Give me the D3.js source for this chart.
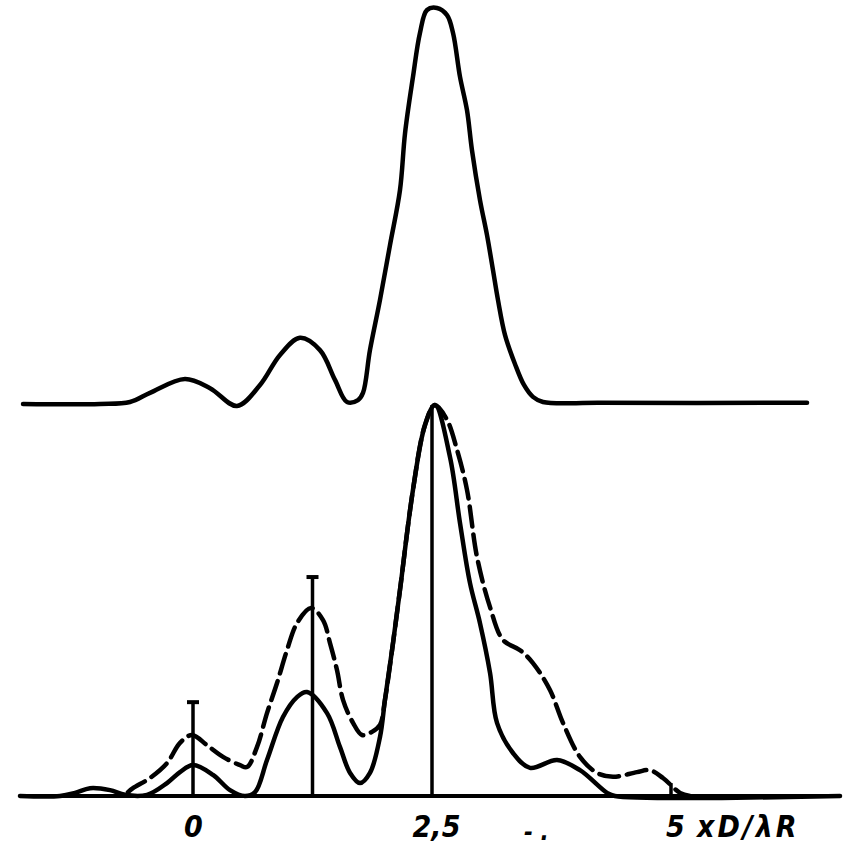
<!DOCTYPE html>
<html>
<head>
<meta charset="utf-8">
<script src="https://cdn.jsdelivr.net/npm/d3@7"></script>
<style>
  html, body { margin: 0; padding: 0; background: #fff; }
  svg { display: block; }
  .lbl { font-family: "Liberation Sans Narrow", "DejaVu Sans Condensed", "DejaVu Sans", sans-serif; font-style: italic; font-weight: bold; }
</style>
</head>
<body>
<script>
// ---- data (x in units of xD/λR, y in relative intensity) ----
const topX = [-1.778, -0.973, -0.659, -0.450, -0.084, 0.178, 0.460, 0.701, 0.910, 1.119, 1.328, 1.485, 1.611, 1.726, 1.778, 1.851, 1.956, 2.061, 2.165, 2.218, 2.301, 2.374, 2.448, 2.552, 2.657, 2.720, 2.793, 2.866, 2.918, 3.002, 3.075, 3.138, 3.190, 3.264, 3.368, 3.462, 3.556, 3.661, 4.257, 6.423];
const topY = [0.000, 0.000, 0.005, 0.028, 0.063, 0.040, -0.005, 0.048, 0.124, 0.167, 0.136, 0.061, 0.005, 0.010, 0.028, 0.136, 0.263, 0.402, 0.540, 0.684, 0.826, 0.937, 0.995, 1.000, 0.982, 0.937, 0.826, 0.742, 0.641, 0.515, 0.427, 0.338, 0.263, 0.174, 0.101, 0.048, 0.018, 0.005, 0.003, 0.003];

const solidX = [-1.810, -1.391, -1.234, -1.077, -0.868, -0.711, -0.481, -0.272, -0.136, 0.000, 0.209, 0.387, 0.544, 0.649, 0.774, 0.941, 1.088, 1.192, 1.402, 1.538, 1.643, 1.747, 1.851, 1.956, 2.008, 2.082, 2.165, 2.301, 2.427, 2.531, 2.688, 2.793, 2.897, 3.002, 3.107, 3.180, 3.347, 3.525, 3.808, 4.048, 4.331, 4.414, 6.768];
const solidY = [0.000, 0.000, 0.008, 0.020, 0.015, 0.003, 0.003, 0.033, 0.061, 0.079, 0.054, 0.015, 0.000, 0.010, 0.092, 0.202, 0.253, 0.266, 0.212, 0.125, 0.059, 0.033, 0.059, 0.151, 0.246, 0.373, 0.527, 0.783, 0.949, 1.000, 0.867, 0.698, 0.545, 0.442, 0.315, 0.187, 0.110, 0.072, 0.092, 0.066, 0.008, 0.000, 0.000];

const dashedX = [-0.680, -0.628, -0.450, -0.272, -0.136, -0.010, 0.146, 0.314, 0.492, 0.565, 0.669, 0.774, 0.879, 0.983, 1.088, 1.234, 1.360, 1.433, 1.506, 1.569, 1.674, 1.768, 1.872, 1.956, 2.008, 2.082, 2.165, 2.301, 2.427, 2.531, 2.657, 2.762, 2.866, 2.971, 3.107, 3.243, 3.421, 3.556, 3.734, 3.870, 4.048, 4.226, 4.393, 4.644, 4.780, 4.916, 5.094, 5.199];
const dashedY = [0.010, 0.020, 0.046, 0.084, 0.136, 0.156, 0.130, 0.100, 0.079, 0.074, 0.125, 0.212, 0.289, 0.373, 0.442, 0.481, 0.450, 0.391, 0.322, 0.246, 0.187, 0.156, 0.164, 0.182, 0.246, 0.373, 0.527, 0.783, 0.949, 1.000, 0.962, 0.885, 0.783, 0.611, 0.483, 0.399, 0.373, 0.340, 0.271, 0.187, 0.100, 0.059, 0.049, 0.061, 0.066, 0.046, 0.008, 0.000];

// error bars / marker lines: position and top value
const barX = [0, 1.25, 2.5, 5];
const barTop = [0.240, 0.560, 1.000, 0.033];
const barCap = [true, true, false, false];

const tickValues = [0, 2.5, 5];
const tickLabels = ["0", "2,5", "5"];
const axisTitle = "xD/λR";
const axisRange = [-1.81, 6.74];

// ---- drawing ----
const W = 855, H = 853;
const svg = d3.select("body").append("svg").attr("width", W).attr("height", H);

const x = d3.scaleLinear().domain([0, 5]).range([193, 671]);
const yTop = d3.scaleLinear().domain([0, 1]).range([404, 8]);
const yBot = d3.scaleLinear().domain([0, 1]).range([796, 405]);

function pts(xs, ys) { return xs.map((v, i) => [v, ys[i]]); }

const lineTop = d3.line().x(d => x(d[0])).y(d => yTop(d[1])).curve(d3.curveCatmullRom.alpha(0.5));
const lineBot = d3.line().x(d => x(d[0])).y(d => yBot(d[1])).curve(d3.curveCatmullRom.alpha(0.5));

// top curve
svg.append("path").attr("d", lineTop(pts(topX, topY)))
  .attr("fill", "none").attr("stroke", "#000").attr("stroke-width", 4.5)
  .attr("stroke-linejoin", "round").attr("stroke-linecap", "round");

// bottom axis line
svg.append("line")
  .attr("x1", x(axisRange[0])).attr("x2", x(axisRange[1]))
  .attr("y1", yBot(0)).attr("y2", yBot(0))
  .attr("stroke", "#000").attr("stroke-width", 4);

// vertical marker lines with caps
barX.forEach((bx, i) => {
  svg.append("line")
    .attr("x1", x(bx)).attr("x2", x(bx))
    .attr("y1", yBot(0)).attr("y2", yBot(barTop[i]))
    .attr("stroke", "#000").attr("stroke-width", 3.5);
  if (barCap[i]) {
    svg.append("line")
      .attr("x1", x(bx) - 6).attr("x2", x(bx) + 6)
      .attr("y1", yBot(barTop[i])).attr("y2", yBot(barTop[i]))
      .attr("stroke", "#000").attr("stroke-width", 4);
  }
});

// dashed curve
svg.append("path").attr("d", lineBot(pts(dashedX, dashedY)))
  .attr("fill", "none").attr("stroke", "#000").attr("stroke-width", 4.5)
  .attr("stroke-dasharray", "20,8").attr("stroke-linecap", "round");

// solid curve
svg.append("path").attr("d", lineBot(pts(solidX, solidY)))
  .attr("fill", "none").attr("stroke", "#000").attr("stroke-width", 4.5)
  .attr("stroke-linejoin", "round").attr("stroke-linecap", "round");

// axis labels
const axis = d3.axisBottom(x).tickValues(tickValues)
  .tickFormat((d, i) => tickLabels[i]).tickSize(0).tickPadding(0);
const gAxis = svg.append("g").attr("transform", `translate(0,${yBot(0)})`).call(axis);
gAxis.select(".domain").remove();
gAxis.selectAll("text")
  .attr("class", "lbl").attr("y", 41).attr("dy", 0).attr("dx", (d, i) => i === 0 ? 0 : 4)
  .style("font-size", "30px").attr("fill", "#000");

svg.append("text").attr("class", "lbl")
  .attr("x", 697).attr("y", 837)
  .style("font-size", "30px").style("letter-spacing", "3px").text(axisTitle);

svg.append("text").attr("class", "lbl")
  .attr("x", 524).attr("y", 840)
  .style("font-size", "24px").text("- .");
</script>
</body>
</html>
